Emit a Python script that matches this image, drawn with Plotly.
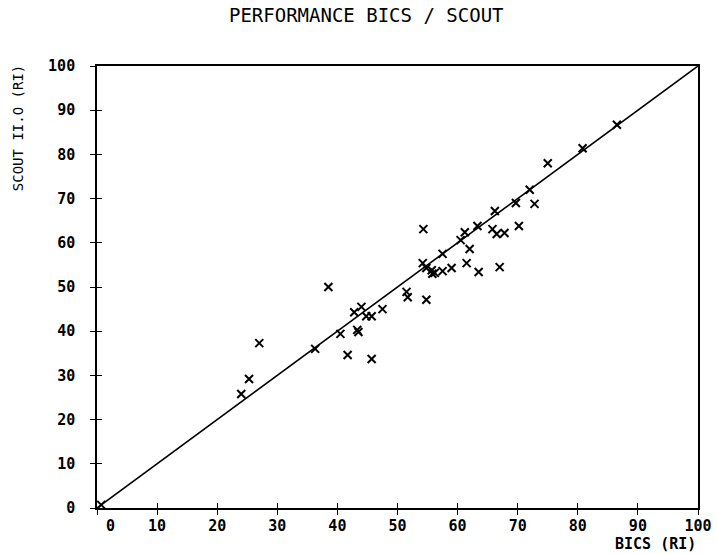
import plotly.graph_objects as go

# BICS (x) vs SCOUT II.0 (y) retention indices
bics = [0.7, 24.0, 25.3, 27.0, 36.3, 38.5, 40.5, 41.7, 42.8, 43.3, 43.5, 44.0,
        44.8, 45.7, 45.7, 47.5, 51.5, 51.7, 54.3, 54.2, 54.8, 55.7, 56.2, 55.8,
        57.5, 57.5, 59.0, 54.8, 60.5, 61.2, 61.5, 62.0, 63.3, 63.5, 65.8, 66.2,
        66.5, 67.8, 67.0, 69.7, 70.2, 72.8, 72.0, 75.0, 80.8, 86.5]
scout = [0.7, 25.8, 29.2, 37.3, 36.0, 50.0, 39.4, 34.6, 44.3, 40.3, 39.8, 45.5,
         43.4, 43.4, 33.7, 45.0, 48.9, 47.7, 63.1, 55.4, 54.3, 53.8, 53.2, 53.0,
         53.6, 57.5, 54.3, 47.1, 60.6, 62.4, 55.4, 58.6, 63.8, 53.4, 63.1, 67.2,
         62.0, 62.2, 54.5, 69.0, 63.8, 68.8, 72.0, 78.0, 81.4, 86.7]
diag = [0, 100]
tick_vals = [0, 10, 20, 30, 40, 50, 60, 70, 80, 90, 100]
x_tick_text = ["\u00a0\u00a0\u00a00", "10", "20", "30", "40", "50", "60", "70", "80", "90", "100"]
y_tick_text = ["0", "10", "20", "30", "40", "50", "60", "70", "80", "90", "100"]

FONT = "DejaVu Sans Mono"

fig = go.Figure()
fig.add_trace(go.Scatter(x=diag, y=diag, mode="lines", line=dict(color="black", width=1.6),
                         xaxis="x2", yaxis="y2", hoverinfo="skip", showlegend=False))
fig.add_trace(go.Scatter(x=bics, y=scout, mode="markers", showlegend=False, cliponaxis=False,
                         marker=dict(symbol="x-thin-open", size=8, color="black",
                                     line=dict(color="black", width=2))))

axis_common = dict(range=[0, 100], showgrid=False, zeroline=False, showline=True,
                   linecolor="black", linewidth=1.6, mirror=True, automargin=False,
                   tickvals=tick_vals, ticklen=5, tickwidth=1.4, tickcolor="black")

fig.update_layout(
    width=717, height=554,
    margin=dict(l=97, r=19, t=66, b=46),
    paper_bgcolor="white", plot_bgcolor="white",
    title=dict(text="PERFORMANCE BICS / SCOUT", x=0.448, xref="paper", xanchor="center",
               y=0.973, yref="container", yanchor="middle",
               font=dict(family=FONT, size=19, color="black")),
    xaxis=dict(**axis_common, ticks="outside", ticktext=x_tick_text, ticklabelstandoff=-2,
               tickfont=dict(family=FONT, size=15, color="black", weight="bold")),
    yaxis=dict(**axis_common, ticks="outside", ticktext=y_tick_text, ticklabelstandoff=12,
               tickfont=dict(family=FONT, size=15, color="black", weight="bold")),
    xaxis2=dict(range=[0, 100], overlaying="x", anchor="y2", ticks="inside", ticklen=5,
                tickwidth=1.4, tickcolor="black", tickvals=tick_vals, showticklabels=False,
                showgrid=False, zeroline=False, showline=False),
    yaxis2=dict(range=[0, 100], overlaying="y", anchor="x2", ticks="inside", ticklen=5,
                tickwidth=1.4, tickcolor="black", tickvals=tick_vals, showticklabels=False,
                showgrid=False, zeroline=False, showline=False),
    annotations=[
        dict(text="SCOUT II.O (RI)", textangle=-90, xref="paper", yref="paper",
             x=-0.131, y=1.007, xanchor="center", yanchor="top", showarrow=False,
             font=dict(family=FONT, size=14, color="black")),
        dict(text="BICS (RI)", xref="paper", yref="paper", x=1.0, y=-0.082,
             xanchor="right", yanchor="middle", showarrow=False,
             font=dict(family=FONT, size=15, color="black", weight="bold")),
    ],
)

fig.write_html("out.html", config={"displayModeBar": False},
               post_script="document.body.style.margin='0';")
